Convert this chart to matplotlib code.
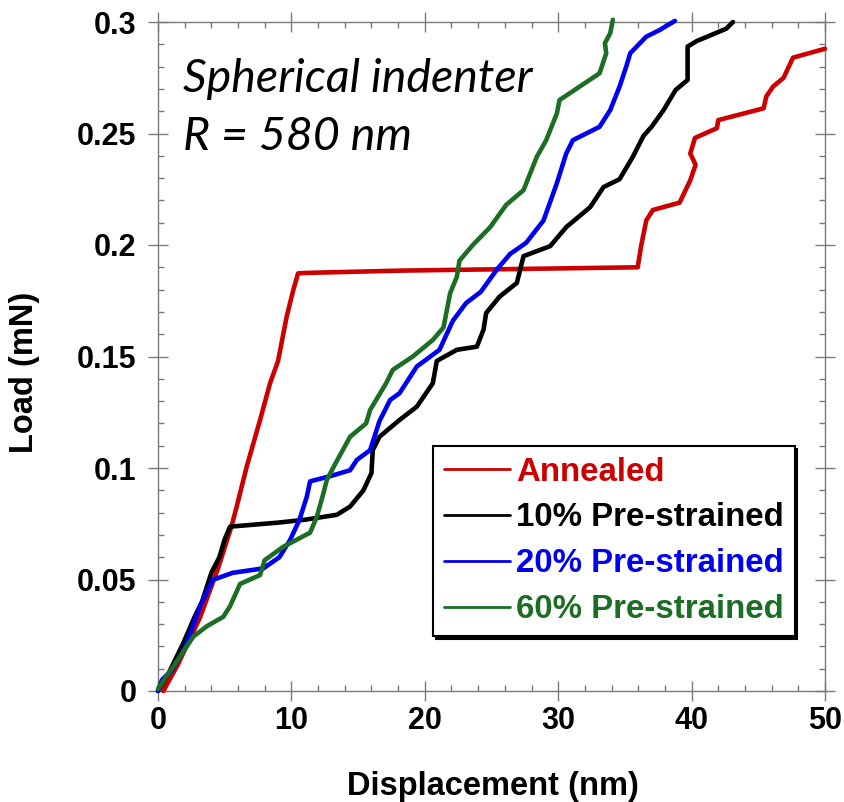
import matplotlib
matplotlib.use("Agg")
import matplotlib.pyplot as plt
from matplotlib.ticker import MultipleLocator

# ---- data ----
annealed_x = [0.4, 1.5, 3.15, 4.5, 5.5, 5.9, 6.65, 7.65, 8.4, 9.0, 9.65, 10.15, 10.5, 11.2, 18.1, 30.0,
              35.96, 36.2, 36.6, 37.1, 39.1, 39.9, 40.3, 39.9, 40.25, 41.9, 42.0, 45.4, 45.6, 46.1, 46.9, 47.6, 50.0]
annealed_y = [0.0, 0.012, 0.033, 0.055, 0.0737, 0.0827, 0.1006, 0.1215, 0.138, 0.148, 0.168, 0.18, 0.1873, 0.1875, 0.1885, 0.1895,
              0.190, 0.199, 0.211, 0.2157, 0.219, 0.229, 0.236, 0.241, 0.248, 0.2524, 0.256, 0.2613, 0.2666, 0.271, 0.275, 0.284, 0.288]

p10_x = [0.0, 0.8, 1.9, 2.8, 3.3, 4.0, 4.6, 5.0, 5.4, 9.0, 11.0, 13.4, 14.4, 15.4, 16.0, 16.1, 16.6, 18.1, 19.4, 20.6,
         20.9, 22.4, 23.9, 24.4, 24.6, 25.6, 26.9, 27.4, 29.4, 30.6, 32.4, 33.4, 34.6, 35.6, 36.4, 37.0, 37.9, 38.8,
         39.7, 39.7, 40.4, 42.6, 43.1]
p10_y = [0.0, 0.008, 0.0215, 0.034, 0.040, 0.053, 0.060, 0.068, 0.0737, 0.0755, 0.0768, 0.079, 0.0827, 0.090, 0.0977,
         0.108, 0.114, 0.1215, 0.1275, 0.138, 0.148, 0.153, 0.1544, 0.162, 0.1695, 0.1768, 0.183, 0.195, 0.1995, 0.208,
         0.217, 0.226, 0.2295, 0.2396, 0.249, 0.253, 0.2605, 0.2695, 0.274, 0.289, 0.2915, 0.297, 0.300]

p20_x = [0.0, 0.3, 1.0, 1.9, 2.5, 3.15, 4.1, 5.6, 7.9, 9.1, 9.9, 10.6, 11.15, 11.4, 13.0, 14.4, 14.9, 15.9, 16.6, 17.4,
         18.1, 19.4, 21.1, 22.1, 23.1, 24.2, 25.4, 26.4, 27.6, 28.9, 29.9, 30.6, 31.1, 33.1, 33.9, 34.6, 35.1, 35.4,
         36.6, 37.6, 38.75]
p20_y = [0.0, 0.005, 0.009, 0.018, 0.027, 0.038, 0.0498, 0.053, 0.055, 0.060, 0.0677, 0.0767, 0.087, 0.094, 0.0965,
         0.099, 0.1036, 0.108, 0.121, 0.1305, 0.1335, 0.1455, 0.153, 0.166, 0.174, 0.179, 0.189, 0.196, 0.201, 0.211,
         0.2277, 0.241, 0.247, 0.253, 0.2605, 0.271, 0.280, 0.286, 0.2934, 0.2964, 0.3005]

p60_x = [0.0, 1.15, 2.65, 3.65, 4.9, 5.4, 6.15, 7.65, 8.0, 9.4, 11.4, 11.9, 12.4, 12.65, 13.3, 14.4, 15.6, 15.9, 17.1,
         17.6, 19.1, 20.6, 21.4, 21.9, 22.4, 22.6, 23.6, 24.9, 26.1, 27.4, 28.4, 29.1, 29.9, 30.1, 31.6, 33.1, 33.6,
         33.5, 33.9, 34.1]
p60_y = [0.001, 0.011, 0.0244, 0.029, 0.0333, 0.038, 0.048, 0.052, 0.0587, 0.0647, 0.071, 0.078, 0.0886, 0.0946, 0.102,
         0.114, 0.120, 0.126, 0.138, 0.144, 0.150, 0.1574, 0.163, 0.1784, 0.1857, 0.193, 0.200, 0.208, 0.218, 0.2246,
         0.2396, 0.247, 0.259, 0.265, 0.271, 0.277, 0.286, 0.2905, 0.295, 0.301]

labels = ["Annealed", "10% Pre-strained", "20% Pre-strained", "60% Pre-strained"]
colors = ["#CC0000", "#000000", "#0000EE", "#1B6E23"]

x_ticks = [0, 10, 20, 30, 40, 50]
y_ticks = [0, 0.05, 0.1, 0.15, 0.2, 0.25, 0.3]
y_ticklabels = ["0", "0.05", "0.1", "0.15", "0.2", "0.25", "0.3"]

annotation = ["Spherical indenter", "R = 580 nm"]

# ---- figure ----
W, H = 844, 802
fig = plt.figure(figsize=(W / 100, H / 100), dpi=100)
ax = fig.add_axes([158 / W, 1 - 691 / H, (825 - 158) / W, (691 - 22) / H])

series = [(annealed_x, annealed_y), (p10_x, p10_y), (p20_x, p20_y), (p60_x, p60_y)]
handles = []
for (xs, ys), lab, c in zip(series, labels, colors):
    h, = ax.plot(xs, ys, color=c, lw=3.3, label=lab, solid_joinstyle="round", solid_capstyle="round",
                 clip_on=False, zorder=3)
    handles.append(h)

ax.set_xlim(0, 50)
ax.set_ylim(0, 0.3)

gray = "#7a7a7a"
for s in ax.spines.values():
    s.set_color(gray)
    s.set_linewidth(1.0)

tickfont = dict(family="Liberation Sans", weight="bold", size=22)
ax.set_xticks(x_ticks)
ax.set_xticklabels([str(v) for v in x_ticks], fontdict=tickfont)
ax.set_yticks(y_ticks)
ax.set_yticklabels(y_ticklabels, fontdict=tickfont)
ax.xaxis.set_minor_locator(MultipleLocator(2))
ax.yaxis.set_minor_locator(MultipleLocator(0.01))
ax.tick_params(which="major", direction="inout", length=15, width=1, color=gray,
               top=True, right=True)
ax.tick_params(axis="x", which="major", pad=3)
ax.tick_params(axis="y", which="major", pad=8)
ax.tick_params(which="minor", direction="in", length=4, width=1, color=gray, top=True, right=True)

ax.set_xlabel("Displacement (nm)", family="Liberation Sans", weight="bold", size=23.5)
ax.set_ylabel("Load (mN)", family="Liberation Sans", weight="bold", size=23.5)
ax.xaxis.set_label_coords((493 - 158) / (825 - 158), -(795 - 691) / (691 - 22), transform=ax.transAxes)
ax.xaxis.label.set_va("baseline")
ax.yaxis.set_label_coords(-(158 - 25) / (825 - 158), (691 - 372) / (691 - 22), transform=ax.transAxes)
ax.yaxis.label.set_va("center")

for line, base_px in zip(annotation, [92, 150]):
    ax.text((183 - 158) / 667, (691 - base_px) / 669, line, transform=ax.transAxes,
            family="Lato", style="italic", size=33.5, va="baseline", ha="left")

leg = ax.legend(handles=handles, loc="upper left", bbox_to_anchor=((433 - 158) / 667, (691 - 446) / 669),
                borderaxespad=0, frameon=True, fancybox=False, framealpha=1,
                shadow={"color": "black", "alpha": 1},
                prop=dict(family="Liberation Sans", weight="bold", size=23.8),
                labelcolor="linecolor", handlelength=2.0, handletextpad=0.2, labelspacing=0.45,
                borderpad=0.32)
leg.get_frame().set_edgecolor("black")
leg.get_frame().set_linewidth(1.5)
for lh in leg.legend_handles:
    lh.set_linewidth(2.0)
leg.set_zorder(5)

fig.savefig("out.png", dpi=100)
